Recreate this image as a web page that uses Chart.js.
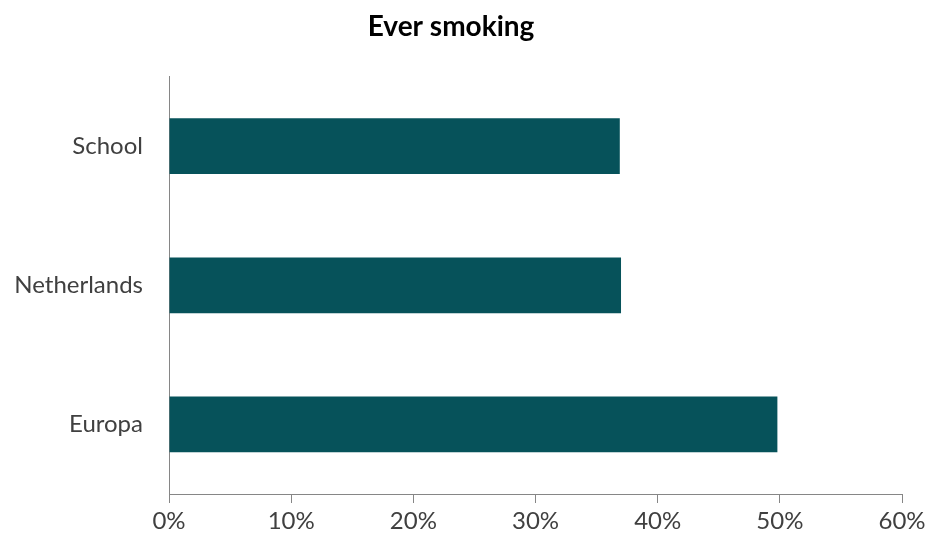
<!DOCTYPE html>
<html>
<head>
<meta charset="utf-8">
<script src="https://cdn.jsdelivr.net/npm/chart.js@4"></script>
<style>
  html, body { margin: 0; padding: 0; background: #fff; }
  #wrap { width: 927px; height: 543px; }
</style>
</head>
<body>
<div id="wrap"><canvas id="chart"></canvas></div>
<script>
const categories = ["School", "Netherlands", "Europa"];
const everSmoking = [36.9, 37.0, 49.8];
const xTicks = [0, 10, 20, 30, 40, 50, 60];

const axisColor = "#868686";
const labelFont = { family: "Lato", size: 24 };

const ctx = document.getElementById("chart");
new Chart(ctx, {
  type: "bar",
  data: {
    labels: categories,
    datasets: [{
      label: "Ever smoking",
      data: everSmoking,
      backgroundColor: "#06525a",
      barPercentage: 0.4,
      categoryPercentage: 1.0
    }]
  },
  options: {
    indexAxis: "y",
    responsive: true,
    maintainAspectRatio: false,
    animation: false,
    layout: { padding: { left: 0, right: 25, top: 0, bottom: 0 } },
    scales: {
      x: {
        min: 0,
        max: 60,
        afterBuildTicks: (axis) => { axis.ticks = xTicks.map(v => ({ value: v })); },
        afterFit: (axis) => {
          axis.height = 49;
          axis.paddingLeft = 0;
          axis.paddingRight = 0;
        },
        border: { display: true, color: axisColor, width: 1 },
        grid: { drawOnChartArea: false, drawTicks: true, tickLength: 9, color: axisColor },
        ticks: {
          color: "#404040",
          font: labelFont,
          padding: 4,
          callback: (v) => v + "%"
        }
      },
      y: {
        afterFit: (axis) => { axis.width = 169; },
        border: { display: true, color: axisColor, width: 1 },
        grid: { display: false },
        ticks: { color: "#404040", font: labelFont, padding: 18 }
      }
    },
    plugins: {
      legend: { display: false },
      tooltip: { enabled: false },
      title: {
        display: true,
        text: "Ever smoking",
        color: "#000",
        font: { family: "Lato", size: 28, weight: "bold" },
        padding: { top: 10, bottom: 33 }
      }
    }
  }
});
</script>
</body>
</html>
